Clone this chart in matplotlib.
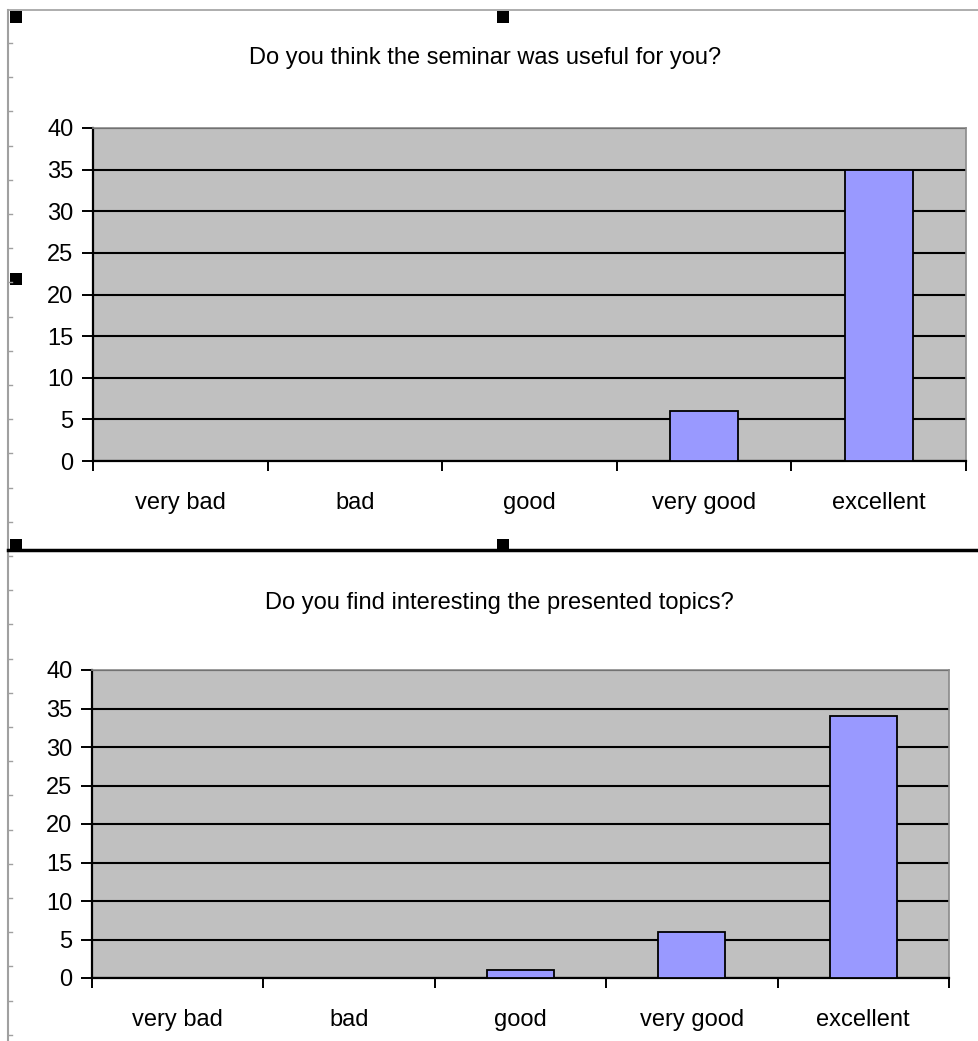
import matplotlib
matplotlib.use("Agg")
import matplotlib.pyplot as plt
from matplotlib.lines import Line2D
from matplotlib.patches import Rectangle
import numpy as np

plt.rcParams["font.family"] = ["Liberation Sans", "DejaVu Sans"]

categories = ["very bad", "bad", "good", "very good", "excellent"]
useful = [0, 0, 0, 6, 35]
interesting = [0, 0, 1, 6, 34]
yticks = [0, 5, 10, 15, 20, 25, 30, 35, 40]
titles = ["Do you think the seminar was useful for you?",
          "Do you find interesting the presented topics?"]

W, H = 979, 1041
fig = plt.figure(figsize=(W / 100, H / 100), dpi=100)
fig.patch.set_facecolor("white")

def px_axes(l, t, r, b):
    return fig.add_axes([l / W, 1 - b / H, (r - l) / W, (b - t) / H])

def bar_chart(ax, vals, title, title_xy):
    x = np.arange(len(categories))
    ax.set_facecolor("#C0C0C0")
    ax.bar(x, vals, width=0.39, color="#9999FF", edgecolor="black", lw=1.3, zorder=3)
    ax.set_xlim(-0.5, len(categories) - 0.5)
    ax.set_ylim(0, 40)
    ax.set_yticks(yticks)
    ax.yaxis.grid(True, color="black", lw=1.5, zorder=1)
    ax.set_axisbelow(True)
    ax.set_xticks(x)
    ax.set_xticklabels(categories, fontsize=17)
    ax.tick_params(axis="x", length=0, pad=22)
    ax.set_xticks(np.arange(len(categories) + 1) - 0.5, minor=True)
    ax.tick_params(axis="x", which="minor", length=7, width=1.4, direction="out")
    ax.tick_params(axis="y", length=8, width=1.4, labelsize=17, pad=6)
    for s in ["top", "right"]:
        ax.spines[s].set_color("#8a8a8a")
        ax.spines[s].set_linewidth(1.2)
    for s in ["left", "bottom"]:
        ax.spines[s].set_linewidth(1.6)
    fig.text(title_xy[0] / W, 1 - title_xy[1] / H, title, ha="center", va="center",
             fontsize=17)

ax1 = px_axes(93, 128, 966, 461)
bar_chart(ax1, useful, titles[0], (485, 58))
ax2 = px_axes(92, 670, 949, 978)
bar_chart(ax2, interesting, titles[1], (499, 603))

# spreadsheet frame decorations
fig.add_artist(Line2D([8 / W, 8 / W], [0, 1 - 10 / H], color="#a0a0a0", lw=1.5))
fig.add_artist(Line2D([8 / W, 1], [1 - 10 / H, 1 - 10 / H], color="#a0a0a0", lw=1.2))
for yy in np.arange(43, H, 34.2):
    fig.add_artist(Line2D([8 / W, 12 / W], [1 - yy / H, 1 - yy / H], color="#a0a0a0", lw=1))
fig.add_artist(Line2D([8 / W, 1], [1 - 550 / H, 1 - 550 / H], color="black", lw=2.5))
for hx, hy in [(10, 11), (497, 11), (10, 273), (10, 539), (497, 539)]:
    fig.add_artist(Rectangle((hx / W, 1 - (hy + 12) / H), 12 / W, 12 / H,
                             facecolor="black", edgecolor="none"))

fig.savefig("out.png", dpi=100)
